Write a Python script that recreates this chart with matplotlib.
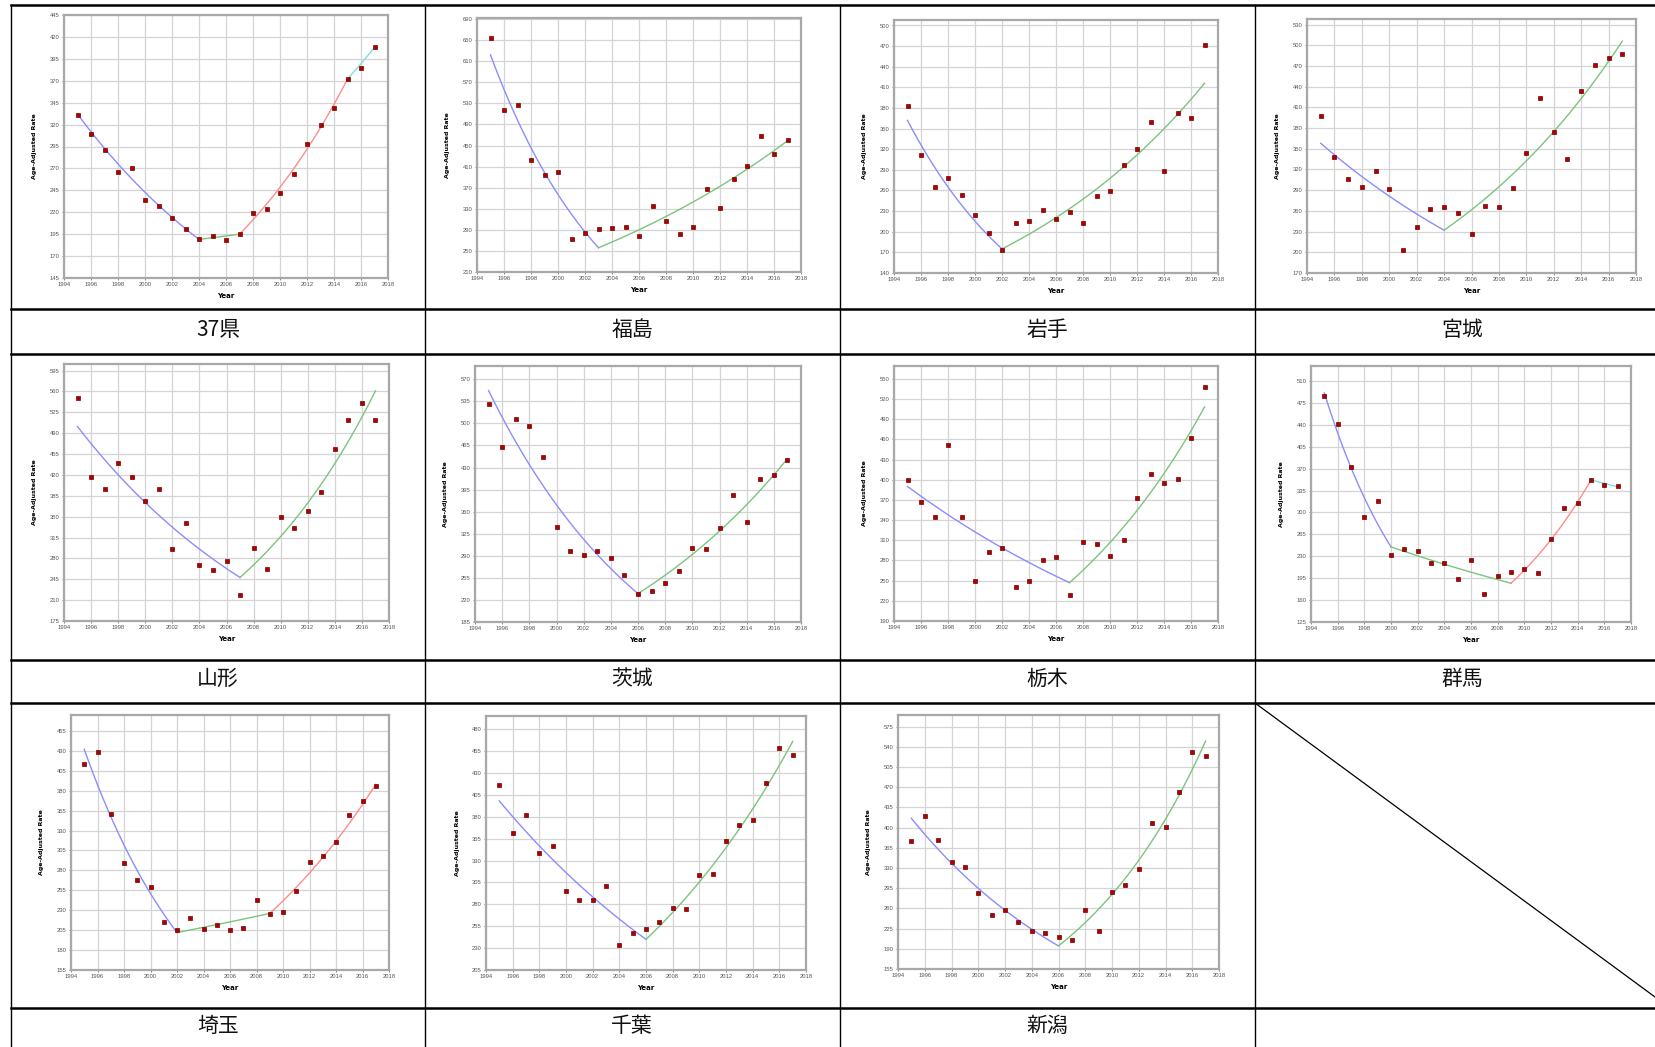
import numpy as np
import matplotlib
matplotlib.use("Agg")
import matplotlib.pyplot as plt

W, H = 1655, 1047

years = list(range(1995, 2018))
names = ['37県', '福島', '岩手', '宮城', '山形', '茨城', '栃木', '群馬', '埼玉', '千葉', '新潟']

# observed age-adjusted rates, 1995-2017
rate_37ken = [331, 309, 291, 266, 271, 234, 227, 214, 201, 189, 193, 188, 195, 219, 224, 242, 264, 298, 319, 339, 372, 384, 408]
rate_fukushima = [654, 518, 526, 422, 394, 400, 272, 284, 291, 293, 296, 278, 335, 306, 283, 296, 367, 332, 386, 411, 469, 434, 460]
rate_iwate = [383, 311, 265, 278, 254, 224, 198, 174, 213, 215, 232, 219, 229, 213, 252, 259, 297, 321, 359, 288, 372, 365, 471]
rate_miyagi = [397, 338, 306, 294, 318, 292, 204, 237, 263, 266, 257, 226, 267, 265, 293, 344, 424, 374, 335, 433, 472, 481, 488]
rate_yamagata = [549, 417, 396, 440, 417, 377, 397, 296, 340, 269, 260, 275, 219, 298, 262, 350, 331, 359, 391, 463, 512, 540, 512]
rate_ibaraki = [530, 462, 507, 496, 447, 335, 298, 292, 298, 287, 260, 229, 234, 247, 266, 302, 300, 334, 386, 344, 411, 418, 442]
rate_tochigi = [400, 367, 344, 452, 345, 250, 292, 299, 240, 249, 281, 285, 228, 308, 305, 286, 311, 373, 409, 395, 401, 462, 538]
rate_gunma = [486, 442, 373, 292, 318, 232, 242, 239, 219, 219, 194, 224, 169, 198, 205, 209, 204, 257, 307, 315, 352, 344, 343]
rate_saitama = [414, 428, 351, 289, 268, 259, 215, 205, 220, 206, 211, 205, 208, 243, 225, 228, 254, 291, 298, 316, 349, 367, 386]
rate_chiba = [416, 361, 382, 339, 347, 295, 285, 285, 301, 233, 247, 252, 260, 276, 275, 313, 315, 352, 371, 376, 418, 458, 450]
rate_niigata = [377, 420, 378, 340, 332, 286, 248, 258, 237, 220, 217, 211, 205, 258, 220, 289, 300, 329, 408, 401, 461, 531, 524]

# joinpoint trend: joint years and modelled values at each joint
join_37ken = ([1995, 2004, 2007, 2015, 2017], [332, 189, 195, 372, 408])
join_fukushima = ([1995, 2003, 2017], [622, 256, 459])
join_iwate = ([1995, 2002, 2017], [362, 175, 416])
join_miyagi = ([1995, 2004, 2017], [358, 232, 506])
join_yamagata = ([1995, 2007, 2017], [501, 248, 561])
join_ibaraki = ([1995, 2006, 2017], [552, 230, 444])
join_tochigi = ([1995, 2007, 2017], [390, 247, 508])
join_gunma = ([1995, 2000, 2009, 2015, 2017], [491, 245, 187, 352, 341])
join_saitama = ([1995, 2002, 2009, 2017], [432, 202, 226, 388])
join_chiba = ([1995, 2006, 2017], [398, 240, 466])
join_niigata = ([1995, 2006, 2017], [416, 195, 550])

# y axis: first tick, step, last tick
yticks_spec = [(145, 25, 445), (210, 40, 690), (140, 30, 500), (170, 30, 530),
               (175, 35, 595), (185, 35, 570), (190, 30, 550), (125, 35, 510),
               (155, 25, 455), (205, 25, 480), (155, 35, 575)]
ytop = [445, 692, 508, 538, 606, 591, 569, 534, 475, 495, 595]

rates = [rate_37ken, rate_fukushima, rate_iwate, rate_miyagi, rate_yamagata, rate_ibaraki,
         rate_tochigi, rate_gunma, rate_saitama, rate_chiba, rate_niigata]
joins = [join_37ken, join_fukushima, join_iwate, join_miyagi, join_yamagata, join_ibaraki,
         join_tochigi, join_gunma, join_saitama, join_chiba, join_niigata]

# plot area boxes in pixels: left, top, right, bottom
boxes = [(64, 15, 388, 278), (477, 18, 801, 272), (894, 20, 1218, 273), (1307, 19, 1636, 273),
         (64, 364, 389, 621), (475, 366, 801, 622), (894, 366, 1218, 621), (1311, 366, 1631, 622),
         (71, 715, 389, 970), (486, 716, 806, 970), (898, 715, 1219, 969)]

seg_colors = ['#8c8cff', '#7cc47c', '#ff8c8c', '#7fdede']

fig = plt.figure(figsize=(W / 100, H / 100), dpi=100)
fig.patch.set_facecolor('white')

# table frame and labels drawn in pixel space
base = fig.add_axes([0, 0, 1, 1])
base.set_xlim(0, W)
base.set_ylim(H, 0)
base.axis('off')

for x in [11, 425, 840, 1255]:
    base.plot([x, x], [5, H], color='black', lw=1.0)
for y in [5, 309, 354, 660, 703, 1008]:
    base.plot([11, W], [y, y], color='black', lw=1.8)
base.plot([1255, 1670], [703, 1008], color='black', lw=0.9, clip_on=True)

col_c = [218, 632, 1047, 1462]
row_c = [330, 679, 1026]
for i, name in enumerate(names):
    base.text(col_c[i % 4], row_c[i // 4], name, ha='center', va='center',
              fontsize=15, family=['Noto Sans CJK JP', 'DejaVu Sans'], color='#111111')


def px_rect(l, t, r, b):
    return [l / W, 1 - b / H, (r - l) / W, (b - t) / H]


for i in range(len(names)):
    ax = fig.add_axes(px_rect(*boxes[i]))
    y0, step, y1 = yticks_spec[i]
    ax.set_xlim(1994, 2018)
    ax.set_ylim(y0, ytop[i])
    ax.set_xticks(range(1994, 2019, 2))
    ax.set_yticks(np.arange(y0, y1 + 1, step))
    ax.grid(True, color='#d4d4d4', lw=0.9)
    ax.set_axisbelow(True)
    for s in ax.spines.values():
        s.set_color('#a8a8a8')
        s.set_linewidth(1.6)
    ax.tick_params(labelsize=4.2, colors='#555555', length=1.5, width=0.5, pad=1.5)
    for lab in ax.get_xticklabels() + ax.get_yticklabels():
        lab.set_family('Liberation Sans')
    ax.set_xlabel('Year', fontsize=5, fontweight='bold', labelpad=4)
    ax.set_ylabel('Age-Adjusted Rate', fontsize=4.5, fontweight='bold', labelpad=9)

    # log-linear segments between joints
    jx, jy = joins[i]
    for k in range(len(jx) - 1):
        xs = np.linspace(jx[k], jx[k + 1], 60)
        ys = jy[k] * (jy[k + 1] / jy[k]) ** ((xs - jx[k]) / (jx[k + 1] - jx[k]))
        ax.plot(xs, ys, color=seg_colors[k], lw=1.0, zorder=2)

    ax.plot(years, rates[i], 's', ms=2.6, color='#b00000', mec='#700000', mew=0.5, zorder=3)

fig.savefig('out.png', dpi=100, facecolor='white')
